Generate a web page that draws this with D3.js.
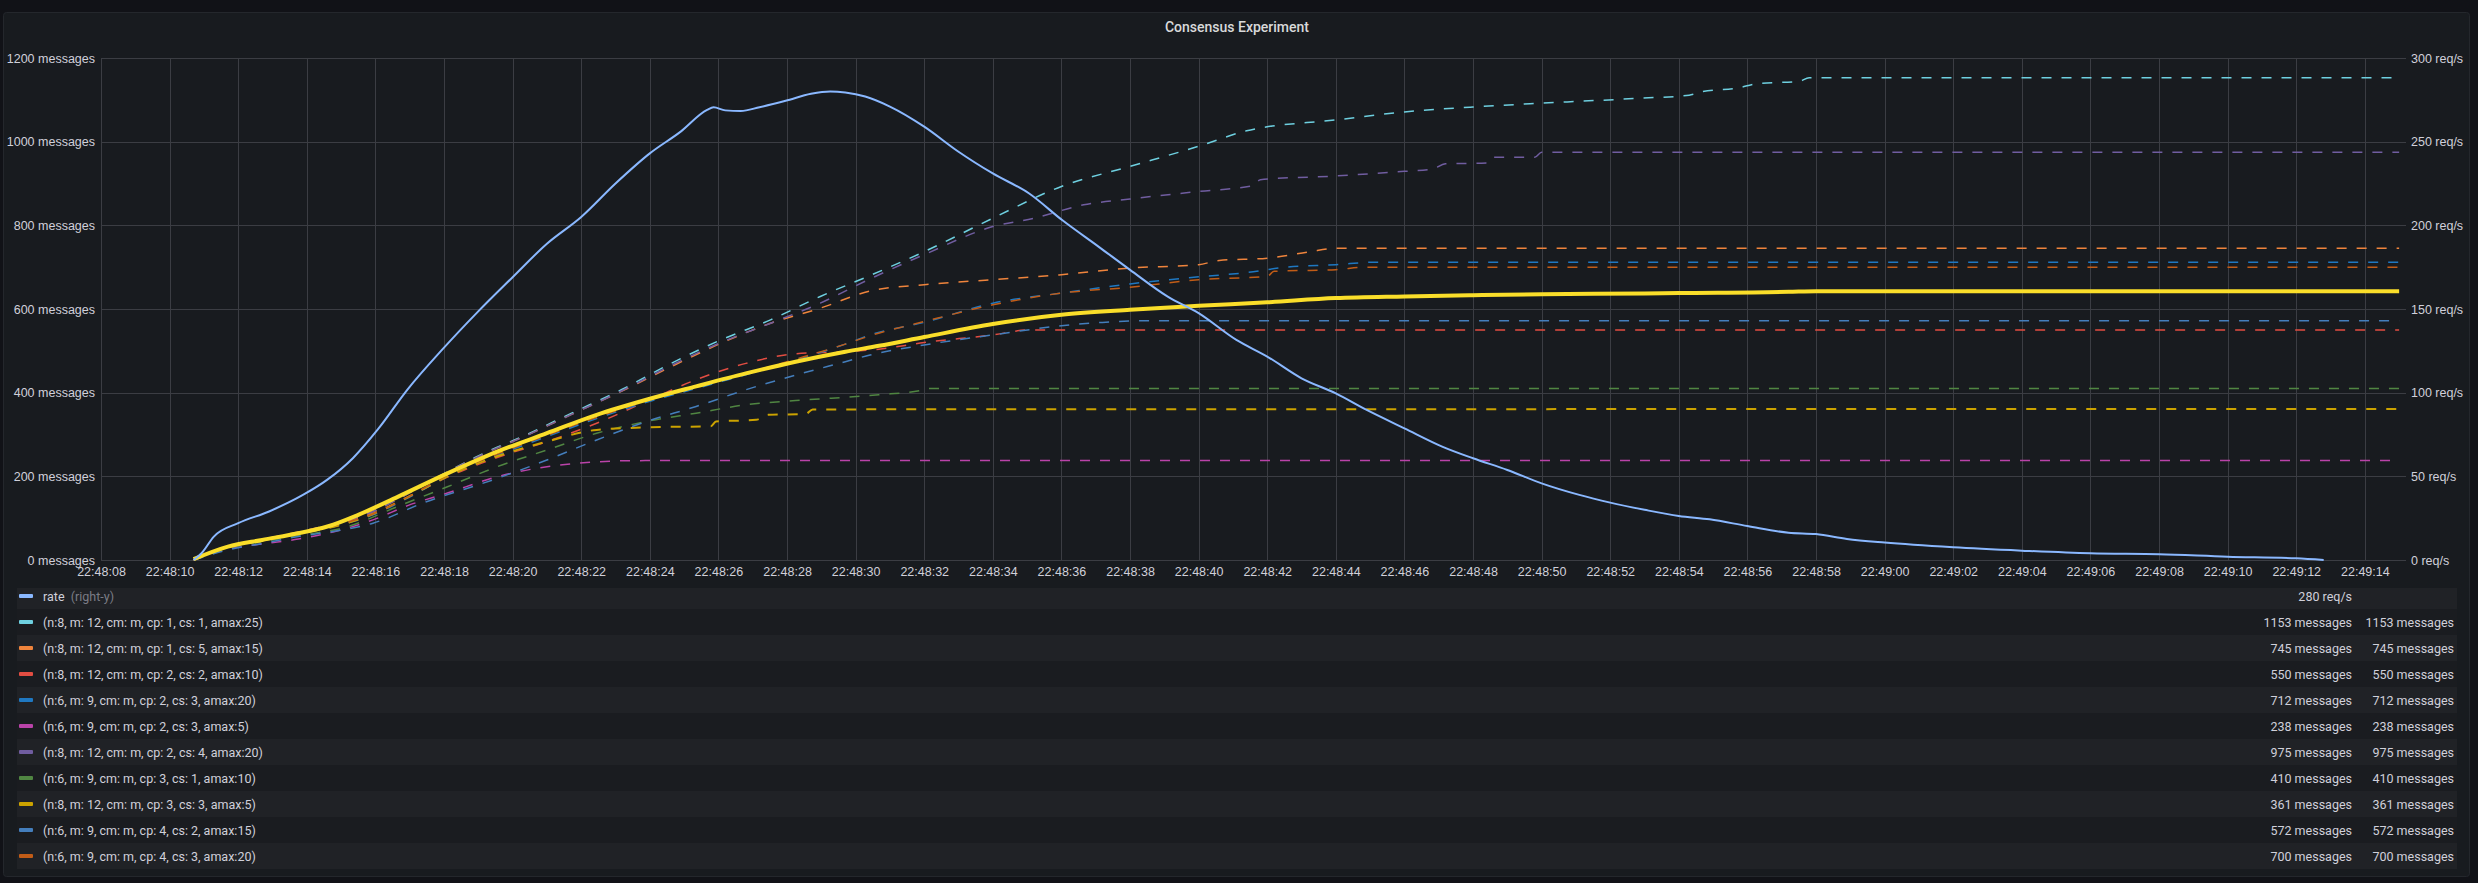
<!DOCTYPE html>
<html>
<head>
<meta charset="utf-8">
<script src="https://cdn.jsdelivr.net/npm/d3@7"></script>
<style>
  body { margin: 0; background: #111217; }
  svg { display: block; font-family: Roboto, "Noto Sans", sans-serif; }
</style>
</head>
<body>
<svg id="chart"></svg>
<script>
// time offsets are seconds after 22:48:08
const xTickFormat = "%H:%M:%S";
const yLeftTicks = [0, 200, 400, 600, 800, 1000, 1200];
const yRightTicks = [0, 50, 100, 150, 200, 250, 300];

const rate = [[2.7,0],[2.93,4],[3.29,14],[4.0,22],[4.9,29],[5.9,39],[6.6,48],[7.35,61],[8.07,78],[8.94,102],[9.96,126],[10.97,148],[12.0,169],[13.0,189],[14.0,205],[15.0,225],[16.0,243],[16.9,256],[17.67,269],[17.86,270.5],[18.2,268.7],[18.65,268.3],[19.2,270.6],[19.96,274.4],[20.7,278.6],[21.26,280],[21.7,279.4],[22.28,277],[23.0,271],[24.0,259],[25.0,244],[26.0,231],[27.06,219],[28.03,203],[29.1,187],[30.0,173.4],[31.1,157.4],[32.0,147.5],[33.1,131.5],[34.0,121.6],[35.0,108.6],[36.0,99.6],[36.9,89.7],[38.0,78.7],[39.1,67.8],[40.0,60.8],[41.0,53.8],[42.0,45.8],[43.1,38.9],[44.0,34.3],[45.0,30],[46.0,26.3],[46.9,24.3],[48.0,20.3],[49.2,16.3],[50.0,15.5],[50.9,12.6],[52.0,10.4],[54.0,7.6],[56.0,5.6],[58.0,4.0],[60.0,3.4],[62.0,2.0],[64.0,1.0],[64.8,0]];

const average = [[2.7,2],[3.7,32],[4.7,48],[5.75,64],[6.6,80],[7.5,108],[8.65,151],[10.1,207],[11.55,259],[13.0,303],[14.45,347],[15.9,383],[17.35,415],[18.8,446],[20.25,474],[21.7,498],[22.68,512],[24,533],[26,564],[28,586],[30,598],[32,607.5],[34,616],[36,626],[38,630],[40,633],[42,635.5],[45,637],[46,638],[49.2,641],[50,642.6],[67.0,642.6]];

const n8cp1cs1 = [[2.7,0],[3.7,32],[4.74,49],[5.75,66],[6.9,88],[7.93,116],[8.94,159],[10.1,211],[11.26,259],[12.28,295],[13.72,351],[15.17,407],[16.62,470],[18.07,526],[19.52,574],[20.97,630],[22.42,680],[24,737],[26,817],[28,893],[30,941],[32,989],[33.4,1026],[36,1052],[38,1071],[40,1083],[42,1092],[44.9,1104],[46.3,1111],[46.7,1120],[47.7,1128],[48.3,1139],[49.5,1144],[49.8,1153],[67.0,1153]];
const n8cp1cs5 = [[2.7,0],[3.7,33],[4.74,50],[5.75,67],[6.9,89],[7.93,117],[8.94,158],[10.1,210],[11.26,257],[12.28,293],[13.72,348],[15.17,403],[16.62,462],[18.07,518],[19.52,566],[20.97,602],[22.42,643],[24,658],[26,670],[28,682],[30,698],[32,706],[32.6,716],[34,721.5],[35.2,736],[36,745],[67.0,745]];
const n8cp2cs2 = [[2.7,0],[3.7,32],[4.74,48],[5.75,64],[6.9,86],[7.93,112],[8.94,150],[10.1,198],[11.55,245],[13.0,283],[14.45,327],[15.9,379],[17.35,431],[18.8,470],[20.25,493],[21.7,498],[22.68,504],[24,520],[26,538],[27.06,550],[67.0,550]];
const n6cp2cs3a20 = [[2.7,0],[3.7,30],[4.74,46],[5.75,62],[6.9,82],[7.93,108],[8.94,148],[10.1,200],[11.55,250],[13.0,295],[14.45,338],[15.9,377],[17.35,410],[18.8,443],[20.25,478],[21.7,516],[22.42,538],[24,568],[26,614],[28,638],[30,660],[32,677],[33.4,687],[34.45,699],[36,706],[37.2,712],[67.0,712]];
const n6cp2cs3a5 = [[2.7,0],[3.7,26],[4.3,34],[5.75,50],[6.9,70],[7.93,96],[8.94,130],[10.1,160],[11.55,199],[13.0,223],[13.87,231],[15.17,237],[17,238],[67.0,238]];
const n8cp2cs4 = [[2.7,0],[3.7,32],[4.74,49],[5.75,66],[6.9,88],[7.93,116],[8.94,158],[10.1,210],[11.26,257],[12.28,293],[13.72,348],[15.17,404],[16.62,465],[18.07,520],[19.52,566],[20.97,614],[22.42,672],[24,730],[26,797],[27.2,817],[28.65,849],[30,863],[32,881],[33.58,895],[33.8,909],[36,918],[38,929],[38.8,934],[39.2,947],[40.4,949],[40.6,963],[41.8,963],[42.0,975],[67.0,975]];
const n6cp3cs1 = [[2.7,0],[3.7,28],[4.74,44],[5.75,58],[7.2,80],[8.65,128],[10.1,175],[11.55,223],[13,263],[14.45,303],[15.9,331],[17.35,351],[18.8,371],[20.25,381],[22.68,395],[23.87,405],[24.16,410],[67.0,410]];
const n8cp3cs3 = [[2.7,0],[3.7,31],[4.74,47],[5.75,63],[6.9,82],[7.93,110],[8.94,150],[10.1,200],[11.55,248],[13,283],[14.45,311],[15.9,317],[17.78,320],[17.93,331],[19.1,335],[19.45,347],[20.54,349],[20.75,360],[67.0,361]];
const n6cp4cs2 = [[2.7,0],[3.7,24],[4.74,40],[5.75,56],[6.9,70],[7.93,88],[9.38,136],[11.55,195],[13,239],[14.45,287],[15.9,331],[17.35,367],[18.8,407],[20.25,442],[21.7,474],[22.42,490],[24,514],[26,538],[28,560],[29.2,568],[30.5,572],[67.0,572]];
const n6cp4cs3 = [[2.7,0],[3.7,31],[4.74,47],[5.75,63],[6.9,84],[7.93,110],[8.94,150],[10.1,203],[11.55,253],[13.0,298],[14.45,341],[15.9,380],[17.35,413],[18.8,446],[20.25,480],[21.7,516],[22.42,536],[24,570],[26,610],[28,638],[30,652],[32,670],[34,678],[34.2,690],[36,694],[36.9,700],[67.0,700]];

const seriesNames = ["(n:8, m: 12, cm: m, cp: 1, cs: 1, amax:25)", "(n:8, m: 12, cm: m, cp: 1, cs: 5, amax:15)", "(n:8, m: 12, cm: m, cp: 2, cs: 2, amax:10)", "(n:6, m: 9, cm: m, cp: 2, cs: 3, amax:20)", "(n:6, m: 9, cm: m, cp: 2, cs: 3, amax:5)", "(n:8, m: 12, cm: m, cp: 2, cs: 4, amax:20)", "(n:6, m: 9, cm: m, cp: 3, cs: 1, amax:10)", "(n:8, m: 12, cm: m, cp: 3, cs: 3, amax:5)", "(n:6, m: 9, cm: m, cp: 4, cs: 2, amax:15)", "(n:6, m: 9, cm: m, cp: 4, cs: 3, amax:20)"];
const seriesData = [n8cp1cs1, n8cp1cs5, n8cp2cs2, n6cp2cs3a20, n6cp2cs3a5, n8cp2cs4, n6cp3cs1, n8cp3cs3, n6cp4cs2, n6cp4cs3];
const seriesColors = ["#6ED0E0", "#EF843C", "#E24D42", "#1F78C1", "#BA43A9", "#705DA0", "#508642", "#CCA300", "#447EBC", "#C15C17"];
const seriesWidths = [1.5, 1.5, 1.5, 1.5, 1.5, 1.5, 1.5, 2, 1.5, 1.5];
const seriesLast = [1153, 745, 550, 712, 238, 975, 410, 361, 572, 700];
const rateLabel = "rate", rateColor = "#8AB8FF", rateLast = 280;

const W = 2478, H = 883;
const plot = {left: 101, right: 2406, top: 58, bottom: 560};
const base = Date.UTC(2021, 0, 1, 22, 48, 8);
const toDate = s => new Date(base + s * 1000);

const svg = d3.select("#chart").attr("width", W).attr("height", H);

// panel
svg.append("rect")
  .attr("x", 3.5).attr("y", 12.5).attr("width", 2466).attr("height", 864).attr("rx", 3)
  .attr("fill", "#181b1f").attr("stroke", "#24272c");

svg.append("text")
  .attr("x", 1237).attr("y", 27).attr("text-anchor", "middle").attr("dominant-baseline", "central")
  .attr("fill", "#d8d9da").attr("font-size", 14).attr("font-weight", 500)
  .text("Consensus Experiment");

const x = d3.scaleUtc().domain([toDate(0), toDate(67.2)]).range([plot.left, plot.right]);
const yL = d3.scaleLinear().domain([0, 1200]).range([plot.bottom, plot.top]);
const yR = d3.scaleLinear().domain([0, 300]).range([plot.bottom, plot.top]);

const gridColor = "#3b3d43", textColor = "#d0d0da";

function styleAxis(g) {
  g.select(".domain").remove();
  g.selectAll(".tick line").attr("stroke", gridColor).attr("shape-rendering", "crispEdges");
  g.selectAll(".tick text").attr("fill", textColor).attr("font-size", 12.5);
}

svg.append("g")
  .attr("transform", `translate(0,${plot.bottom})`)
  .call(d3.axisBottom(x).ticks(d3.utcSecond.every(2)).tickFormat(d3.utcFormat(xTickFormat))
    .tickSize(-(plot.bottom - plot.top)).tickPadding(7))
  .call(styleAxis);

svg.append("g")
  .attr("transform", `translate(${plot.left},0)`)
  .call(d3.axisLeft(yL).tickValues(yLeftTicks).tickFormat(d => d + " messages")
    .tickSize(-(plot.right - plot.left)).tickPadding(6))
  .call(styleAxis);

svg.append("g")
  .attr("transform", `translate(${plot.right},0)`)
  .call(d3.axisRight(yR).tickValues(yRightTicks).tickFormat(d => d + " req/s")
    .tickSize(0).tickPadding(5))
  .call(styleAxis);

svg.append("clipPath").attr("id", "clip").append("rect")
  .attr("x", plot.left).attr("y", plot.top - 4)
  .attr("width", plot.right - plot.left).attr("height", plot.bottom - plot.top + 8);

const lines = svg.append("g").attr("clip-path", "url(#clip)");
const lineL = d3.line().x(d => x(toDate(d[0]))).y(d => yL(d[1])).curve(d3.curveMonotoneX);
const lineR = d3.line().x(d => x(toDate(d[0]))).y(d => yR(d[1])).curve(d3.curveMonotoneX);

seriesData.forEach((data, i) => {
  lines.append("path")
    .datum(data)
    .attr("fill", "none")
    .attr("stroke", seriesColors[i])
    .attr("stroke-width", seriesWidths[i])
    .attr("stroke-dasharray", "10,10")
    .attr("d", lineL);
});

lines.append("path")
  .datum(average)
  .attr("fill", "none")
  .attr("stroke", "#FADE2A")
  .attr("stroke-width", 4)
  .attr("d", lineL);

lines.append("path")
  .datum(rate)
  .attr("fill", "none")
  .attr("stroke", rateColor)
  .attr("stroke-width", 2)
  .attr("d", lineR);

// legend table
const legendRows = [{name: rateLabel, color: rateColor, v1: rateLast + " req/s", v2: ""}]
  .concat(seriesNames.map((n, i) => ({name: n, color: seriesColors[i],
    v1: seriesLast[i] + " messages", v2: seriesLast[i] + " messages"})));

const legend = svg.append("g");
legendRows.forEach((r, i) => {
  const cy = 596 + 26 * i;
  const top = i === 0 ? 588 : cy - 13;
  const bottom = cy + 13;
  legend.append("rect")
    .attr("x", 17).attr("y", top).attr("width", 2440).attr("height", bottom - top)
    .attr("fill", i % 2 === 0 ? "#202226" : "#1a1c20");
  legend.append("rect")
    .attr("x", 19).attr("y", cy - 2).attr("width", 14).attr("height", 4).attr("rx", 1)
    .attr("fill", r.color);
  const t = legend.append("text")
    .attr("x", 43).attr("y", cy).attr("dominant-baseline", "central")
    .attr("fill", textColor).attr("font-size", 12.5)
    .text(r.name);
  if (i === 0) {
    t.append("tspan").attr("fill", "#7b7c85").text("  (right-y)").attr("xml:space", "preserve");
  }
  legend.append("text")
    .attr("x", 2352).attr("y", cy).attr("dominant-baseline", "central").attr("text-anchor", "end")
    .attr("fill", textColor).attr("font-size", 12.5).text(r.v1);
  legend.append("text")
    .attr("x", 2454).attr("y", cy).attr("dominant-baseline", "central").attr("text-anchor", "end")
    .attr("fill", textColor).attr("font-size", 12.5).text(r.v2);
});
</script>
</body>
</html>
